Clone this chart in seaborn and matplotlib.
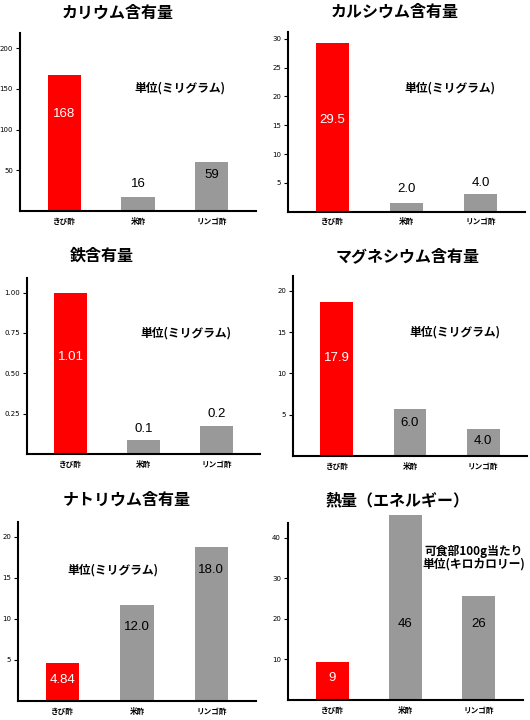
import matplotlib
matplotlib.use('Agg')
import matplotlib.pyplot as plt
import seaborn as sns

# Data
categories = ['きび酢', '米酢', 'リンゴ酢']
bar_colors = ['#ff0000', '#999999', '#999999']

potassium = [167, 17, 60]
potassium_text = ['168', '16', '59']
calcium = [29.3, 1.5, 3.0]
calcium_text = ['29.5', '2.0', '4.0']
iron = [1.0, 0.087, 0.174]
iron_text = ['1.01', '0.1', '0.2']
magnesium = [18.6, 5.7, 3.3]
magnesium_text = ['17.9', '6.0', '4.0']
sodium = [4.6, 11.7, 18.7]
sodium_text = ['4.84', '12.0', '18.0']
energy = [9.4, 45.7, 25.7]
energy_text = ['9', '46', '26']

titles = ['カリウム含有量', 'カルシウム含有量', '鉄含有量',
          'マグネシウム含有量', 'ナトリウム含有量', '熱量（エネルギー）']
unit_mg = '単位(ミリグラム)'
unit_kcal = '可食部100g当たり\n単位(キロカロリー)'

sns.set_theme(style='white')
plt.rcParams['font.family'] = ['Noto Sans CJK JP', 'DejaVu Sans']
plt.rcParams['text.color'] = 'black'
plt.rcParams['xtick.color'] = 'black'
plt.rcParams['ytick.color'] = 'black'

W, H = 530, 720
fig = plt.figure(figsize=(W / 100, H / 100), dpi=100)
fig.patch.set_facecolor('white')

# layout in pixels: spine left, spine top, x-axis y, right end, ymax, ticks,
# title centre (x, y), unit text (x, y), label y positions (data units)
panels = [
    dict(vals=potassium, text=potassium_text, box=(20, 33, 211, 256), ymax=218.6,
         ticks=[50, 100, 150, 200], fmt='{:g}', title=(118, 13), unit=(180, 88, unit_mg),
         lab_y=[119, 33, 44], lab_c=['white', 'black', 'black']),
    dict(vals=calcium, text=calcium_text, box=(288, 32, 211.6, 525), ymax=31.2,
         ticks=[5, 10, 15, 20, 25, 30], fmt='{:g}', title=(395, 12), unit=(450, 88, unit_mg),
         lab_y=[15.9, 3.9, 5.0], lab_c=['white', 'black', 'black']),
    dict(vals=iron, text=iron_text, box=(27, 278, 454, 260), ymax=1.09,
         ticks=[0.25, 0.5, 0.75, 1.0], fmt='{:.2f}', title=(102, 256), unit=(186, 333, unit_mg),
         lab_y=[0.60, 0.155, 0.25], lab_c=['white', 'black', 'black']),
    dict(vals=magnesium, text=magnesium_text, box=(293, 276, 456, 527), ymax=21.8,
         ticks=[5, 10, 15, 20], fmt='{:g}', title=(408, 256), unit=(455, 332, unit_mg),
         lab_y=[11.9, 4.0, 1.8], lab_c=['white', 'black', 'black']),
    dict(vals=sodium, text=sodium_text, box=(18, 522, 701, 256), ymax=21.8,
         ticks=[5, 10, 15, 20], fmt='{:g}', title=(127, 500), unit=(113, 570, unit_mg),
         lab_y=[2.6, 9.0, 16.0], lab_c=['white', 'black', 'black']),
    dict(vals=energy, text=energy_text, box=(288, 523, 700, 523), ymax=43.7,
         ticks=[10, 20, 30, 40], fmt='{:g}', title=(397, 500), unit=(474, 558, unit_kcal),
         lab_y=[5.4, 18.8, 18.8], lab_c=['white', 'black', 'black']),
]

for p, title in zip(panels, titles):
    left, top, base, right = p['box']
    ax = fig.add_axes([left / W, (H - base) / H, (right - left) / W, (base - top) / H])
    sns.barplot(x=categories, y=p['vals'], hue=categories, palette=bar_colors,
                legend=False, width=0.45, saturation=1, ax=ax, edgecolor='none')
    for patch in ax.patches:
        patch.set_clip_on(False)
    ax.set_xlim(-0.6, 2.6)
    ax.set_ylim(0, p['ymax'])
    ax.set_yticks(p['ticks'])
    ax.set_yticklabels([p['fmt'].format(t) for t in p['ticks']],
                       fontsize=5, family='DejaVu Sans')
    ax.tick_params(axis='y', left=True, length=3, width=0.8, pad=2, color='black')
    ax.tick_params(axis='x', bottom=False, length=0, labelsize=5.5, pad=4)
    for lbl in ax.get_xticklabels():
        lbl.set_fontweight('bold')
    sns.despine(ax=ax)
    for s in ['left', 'bottom']:
        ax.spines[s].set_color('black')
        ax.spines[s].set_linewidth(1.5)
    ax.set_facecolor('white')
    ax.grid(False)

    for i, (t, y, c) in enumerate(zip(p['text'], p['lab_y'], p['lab_c'])):
        ax.text(i, y, t, ha='center', va='center', fontsize=9.5, color=c,
                family='Liberation Sans')

    tx, ty = p['title']
    fig.text(tx / W, 1 - ty / H, title, ha='center', va='center',
             fontsize=11.5, fontweight='bold')
    ux, uy, utext = p['unit']
    fig.text(ux / W, 1 - uy / H, utext, ha='center', va='center',
             fontsize=8.5, fontweight='bold', linespacing=1.0)

fig.savefig('out.png', dpi=100, facecolor='white')
